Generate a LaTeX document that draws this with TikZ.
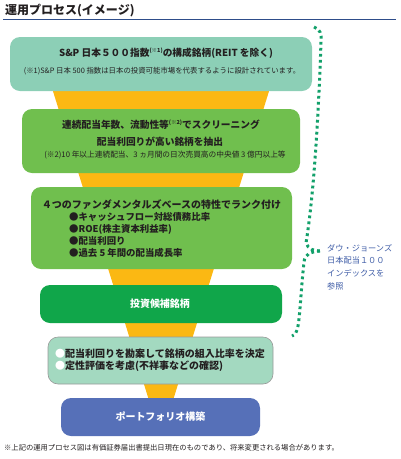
\documentclass[tikz,border=0pt]{standalone}
\usepackage{fontspec}
\setmainfont{Noto Sans CJK JP}
\definecolor{cMint}{HTML}{8CCFB6}
\definecolor{cMintB}{HTML}{A3D9C0}
\definecolor{cGreen}{HTML}{70BF4E}
\definecolor{cDGreen}{HTML}{10A64A}
\definecolor{cBlue}{HTML}{5670B8}
\definecolor{cFunnel}{HTML}{FBB813}
\definecolor{cDot}{HTML}{12A06A}
\definecolor{cLabel}{HTML}{3E5CA6}
\definecolor{cLine}{HTML}{2E4D8A}
\definecolor{cText}{HTML}{231F20}
\newcommand{\fs}[2]{\fontsize{#1}{#2}\selectfont}
\newcommand{\supnote}[1]{\raisebox{0.45em}{\fs{5.5}{6}#1}}
\begin{document}
\begin{tikzpicture}[x=1pt,y=-1pt,
  box/.style={rounded corners=10pt, draw=none, inner sep=0pt},
  txt/.style={inner sep=0pt, text=cText},
  btxt/.style={inner sep=0pt, text=cText, font=\fs{9.7}{12}\bfseries},
  stxt/.style={inner sep=0pt, text=cText, font=\fs{7.4}{9}},
  wtxt/.style={inner sep=0pt, text=white, font=\fs{10}{12}\bfseries},
  dotbrace/.style={draw=cDot, line width=3pt, dash pattern=on 2.8pt off 3.2pt}
]
\useasboundingbox (0,0) rectangle (400,459);
% title
\node[txt, anchor=west, font=\fs{12}{14}\bfseries] (title) at (5,11) {運用プロセス(イメージ)};
\coordinate (tl) at (3,19.5);
\coordinate (tr) at (396,19.5);
\draw[cLine, line width=1.4pt] (tl) -- (tr);
% funnel
\fill[cFunnel] (52,88) -- (270,88) -- (172.5,402) -- (149.5,402) -- cycle;
% boxes
\node[box, fill=cMint, minimum width=302pt, minimum height=54pt] (b1) at (161,64) {};
\node[box, fill=cGreen, minimum width=278pt, minimum height=64pt] (b2) at (161,141) {};
\node[box, fill=cGreen, minimum width=261pt, minimum height=82pt] (b3) at (161.5,228) {};
\node[box, fill=cDGreen, minimum width=242pt, minimum height=38pt] (b4) at (161,304) {};
\node[box, fill=cMintB, draw=gray!80, line width=0.6pt, minimum width=225pt, minimum height=47pt] (b5) at (160.5,360.5) {};
\node[box, fill=cBlue, minimum width=199pt, minimum height=38pt] (b6) at (160.5,417) {};
% box 1 text
\node[btxt] (t1a) at (166,53) {S\&P 日本５００指数\supnote{(※1)}の構成銘柄(REIT を除く)};
\node[stxt] (t1b) at (162,71) {(※1)S\&P 日本 500 指数は日本の投資可能市場を代表するように設計されています。};
% box 2 text
\node[btxt] (t2a) at (161,125) {連続配当年数、流動性等\supnote{(※2)}でスクリーニング};
\node[btxt] (t2b) at (160,142) {配当利回りが高い銘柄を抽出};
\node[stxt, font=\fs{7.7}{9}] (t2c) at (165,155) {(※2)10 年以上連続配当、3 ヵ月間の日次売買高の中央値 3 億円以上等};
% box 3 text
\node[btxt, font=\fs{10}{12}\bfseries] (t3a) at (161.5,205) {４つのファンダメンタルズベースの特性でランク付け};
\node[txt, anchor=west, font=\fs{9.4}{11}\bfseries] (t3b) at (69,217) {●キャッシュフロー対総債務比率};
\node[txt, anchor=west, font=\fs{9.4}{11}\bfseries] (t3c) at (69,229) {●ROE(株主資本利益率)};
\node[txt, anchor=west, font=\fs{9.4}{11}\bfseries] (t3d) at (69,241) {●配当利回り};
\node[txt, anchor=west, font=\fs{9.4}{11}\bfseries] (t3e) at (69,253) {●過去 5 年間の配当成長率};
% box 4 text
\node[wtxt] (t4) at (160,304) {投資候補銘柄};
% box 5 text
\node[txt, anchor=west, font=\fs{10}{12}\bfseries] (t5a) at (55,354) {\textcolor{white}{●}配当利回りを勘案して銘柄の組入比率を決定};
\node[txt, anchor=west, font=\fs{10}{12}\bfseries] (t5b) at (55,366) {\textcolor{white}{●}定性評価を考慮(不祥事などの確認)};
% box 6 text
\node[wtxt] (t6) at (160.5,417) {ポートフォリオ構築};
% footnote
\node[txt, anchor=west, font=\fs{7.3}{9}] (foot) at (4,448) {※上記の運用プロセス図は有価証券届出書提出日現在のものであり、将来変更される場合があります。};
% brace
\coordinate (bTop) at (314,27);
\coordinate (bTip) at (320,251);
\coordinate (bBot) at (292,336);
\draw[dotbrace] (bTop) .. controls (320,29) and (322,34) .. (321,42)
  .. controls (318,130) and (313,200) .. (306,243)
  .. controls (308,249) and (314,251) .. (bTip);
\draw[dotbrace] (bTip) .. controls (310,252) and (305,254) .. (304,262)
  .. controls (301,290) and (300,315) .. (298,326)
  .. controls (297,332) and (295,335) .. (bBot);
% label
\node[txt, anchor=north west, align=left, text=cLabel, font=\fs{8.2}{12.8}] (lab) at (327,244) {ダウ・ジョーンズ\\日本配当１００\\インデックスを\\参照};
\end{tikzpicture}
\end{document}
